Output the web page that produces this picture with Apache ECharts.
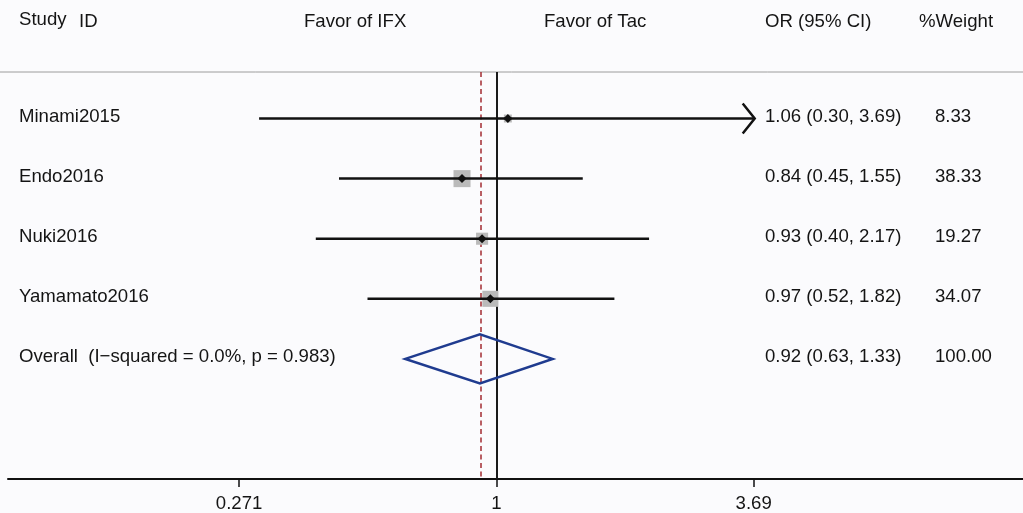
<!DOCTYPE html>
<html>
<head>
<meta charset="utf-8">
<script src="https://cdn.jsdelivr.net/npm/echarts@6/dist/echarts.min.js"></script>
<style>
  html, body { margin: 0; padding: 0; background: #fbfbfd; }
  #chart { width: 1023px; height: 513px; }
</style>
</head>
<body>
<div id="chart"></div>
<script>
// ---- data ----
const studies = ['Minami2015', 'Endo2016', 'Nuki2016', 'Yamamato2016'];
const orValues = [1.06, 0.84, 0.93, 0.97];
const ciLow = [0.30, 0.45, 0.40, 0.52];
const ciHigh = [3.69, 1.55, 2.17, 1.82];
const weights = [8.33, 38.33, 19.27, 34.07];
const overallLabel = 'Overall  (I\u2212squared = 0.0%, p = 0.983)';
const overallValues = [0.92, 0.63, 1.33];
const overallWeight = [100.00];
const tickValues = [0.271, 1, 3.69];
const tickLabels = ['0.271', '1', '3.69'];
const headerLabels = ['Study', 'ID', 'Favor of IFX', 'Favor of Tac', 'OR (95% CI)', '%Weight'];

// ---- layout / style ----
const FONT = 'Liberation Sans, Arial, Helvetica, sans-serif';
const FS = 18.6;
const TXT = '#141414';
const COL_LABEL = 19, COL_OR = 765, COL_W = 935;
const tickMax = Math.max.apply(null, tickValues);

const ln = Math.log;
function fmt(v) { return v.toFixed(2); }

const studyData = studies.map((s, i) => [
  ln(orValues[i]), ln(ciLow[i]), ln(Math.min(ciHigh[i], tickMax)), i + 1, weights[i],
  ciHigh[i] >= tickMax ? 1 : 0, i
]);
const overallData = [[ln(overallValues[0]), ln(overallValues[1]), ln(overallValues[2]), studies.length + 1, overallWeight[0]]];

function txt(text, x, y) {
  return { type: 'text', style: { text: text, x: x, y: y, fill: TXT, fontSize: FS, fontFamily: FONT, align: 'left', verticalAlign: 'middle' } };
}

const chart = echarts.init(document.getElementById('chart'), null, { renderer: 'canvas' });

const option = {
  backgroundColor: '#fbfbfd',
  animation: false,
  grid: { left: 8, right: 0, top: 72, bottom: 34, containLabel: false },
  xAxis: {
    type: 'value',
    min: -2.478, max: 2.672,
    splitLine: { show: false },
    axisLine: { show: true, onZero: false, lineStyle: { color: '#111', width: 2 } },
    axisTick: { show: true, length: 8, customValues: tickValues.map(ln), lineStyle: { color: '#111', width: 1.5 } },
    axisLabel: {
      show: true, customValues: tickValues.map(ln), margin: 15,
      color: TXT, fontSize: FS, fontFamily: FONT,
      formatter: function (v) {
        let best = 0, d = Infinity;
        tickValues.forEach((t, k) => { const dd = Math.abs(ln(t) - v); if (dd < d) { d = dd; best = k; } });
        return tickLabels[best];
      }
    }
  },
  yAxis: {
    type: 'value', inverse: true, min: 0.226, max: 6.998, show: false
  },
  graphic: [
    { type: 'line', shape: { x1: 0, y1: 72, x2: 1023, y2: 72 }, style: { stroke: '#9c9c9c', lineWidth: 1 }, z: 1 },
    txt(headerLabels[0], COL_LABEL, 20),
    txt(headerLabels[1], 79, 22),
    txt(headerLabels[2], 304, 22),
    txt(headerLabels[3], 544, 22),
    txt(headerLabels[4], COL_OR, 22),
    txt(headerLabels[5], 919, 22)
  ].map(g => Object.assign(g, { silent: true })),
  series: [
    {
      type: 'custom',
      name: 'studies',
      data: studyData,
      clip: false,
      z: 5,
      renderItem: function (params, api) {
        const x = api.value(0), lo = api.value(1), hi = api.value(2), row = api.value(3), w = api.value(4), arrow = api.value(5), idx = api.value(6);
        const p = api.coord([x, row]);
        const pl = api.coord([lo, row]);
        const ph = api.coord([hi, row]);
        const side = 2.75 * Math.sqrt(w);
        const children = [
          { type: 'rect', shape: { x: p[0] - side / 2, y: p[1] - side / 2, width: side, height: side }, style: { fill: '#bababa' } },
          { type: 'line', shape: { x1: pl[0], y1: pl[1], x2: ph[0], y2: ph[1] }, style: { stroke: '#111', lineWidth: 2.5 } }
        ];
        if (arrow) {
          children.push({ type: 'polyline', shape: { points: [[ph[0] - 11, ph[1] - 15], [ph[0] + 1, ph[1]], [ph[0] - 11, ph[1] + 15]] }, style: { stroke: '#111', lineWidth: 2.5, fill: null } });
        }
        children.push({ type: 'polygon', shape: { points: [[p[0] - 4.5, p[1]], [p[0], p[1] - 4.5], [p[0] + 4.5, p[1]], [p[0], p[1] + 4.5]] }, style: { fill: '#111' } });
        const ty = p[1] - 2;
        children.push(txt(studies[idx], COL_LABEL, ty));
        children.push(txt(fmt(orValues[idx]) + ' (' + fmt(ciLow[idx]) + ', ' + fmt(ciHigh[idx]) + ')', COL_OR, ty));
        children.push(txt(fmt(weights[idx]), COL_W, ty));
        return { type: 'group', children: children };
      },
      markLine: {
        silent: true, symbol: 'none', label: { show: false },
        data: [
          { xAxis: 0, lineStyle: { color: '#1a1a1a', width: 2, type: 'solid' } },
          { xAxis: ln(overallValues[0]), lineStyle: { color: '#a8383e', width: 1.6, type: [5, 3.5] } }
        ]
      }
    },
    {
      type: 'custom',
      name: 'overall',
      data: overallData,
      clip: false,
      z: 6,
      renderItem: function (params, api) {
        const x = api.value(0), lo = api.value(1), hi = api.value(2), row = api.value(3);
        const p = api.coord([x, row]);
        const pl = api.coord([lo, row]);
        const ph = api.coord([hi, row]);
        const h = 24.5;
        const ty = p[1] - 2;
        return {
          type: 'group',
          children: [
            { type: 'polygon', shape: { points: [[pl[0], p[1]], [p[0], p[1] - h], [ph[0], p[1]], [p[0], p[1] + h]] }, style: { stroke: '#1f3b8f', lineWidth: 2.5, fill: null } },
            txt(overallLabel, COL_LABEL, ty),
            txt(fmt(overallValues[0]) + ' (' + fmt(overallValues[1]) + ', ' + fmt(overallValues[2]) + ')', COL_OR, ty),
            txt(fmt(api.value(4)), COL_W, ty)
          ]
        };
      }
    }
  ]
};
chart.setOption(option);
</script>
</body>
</html>
